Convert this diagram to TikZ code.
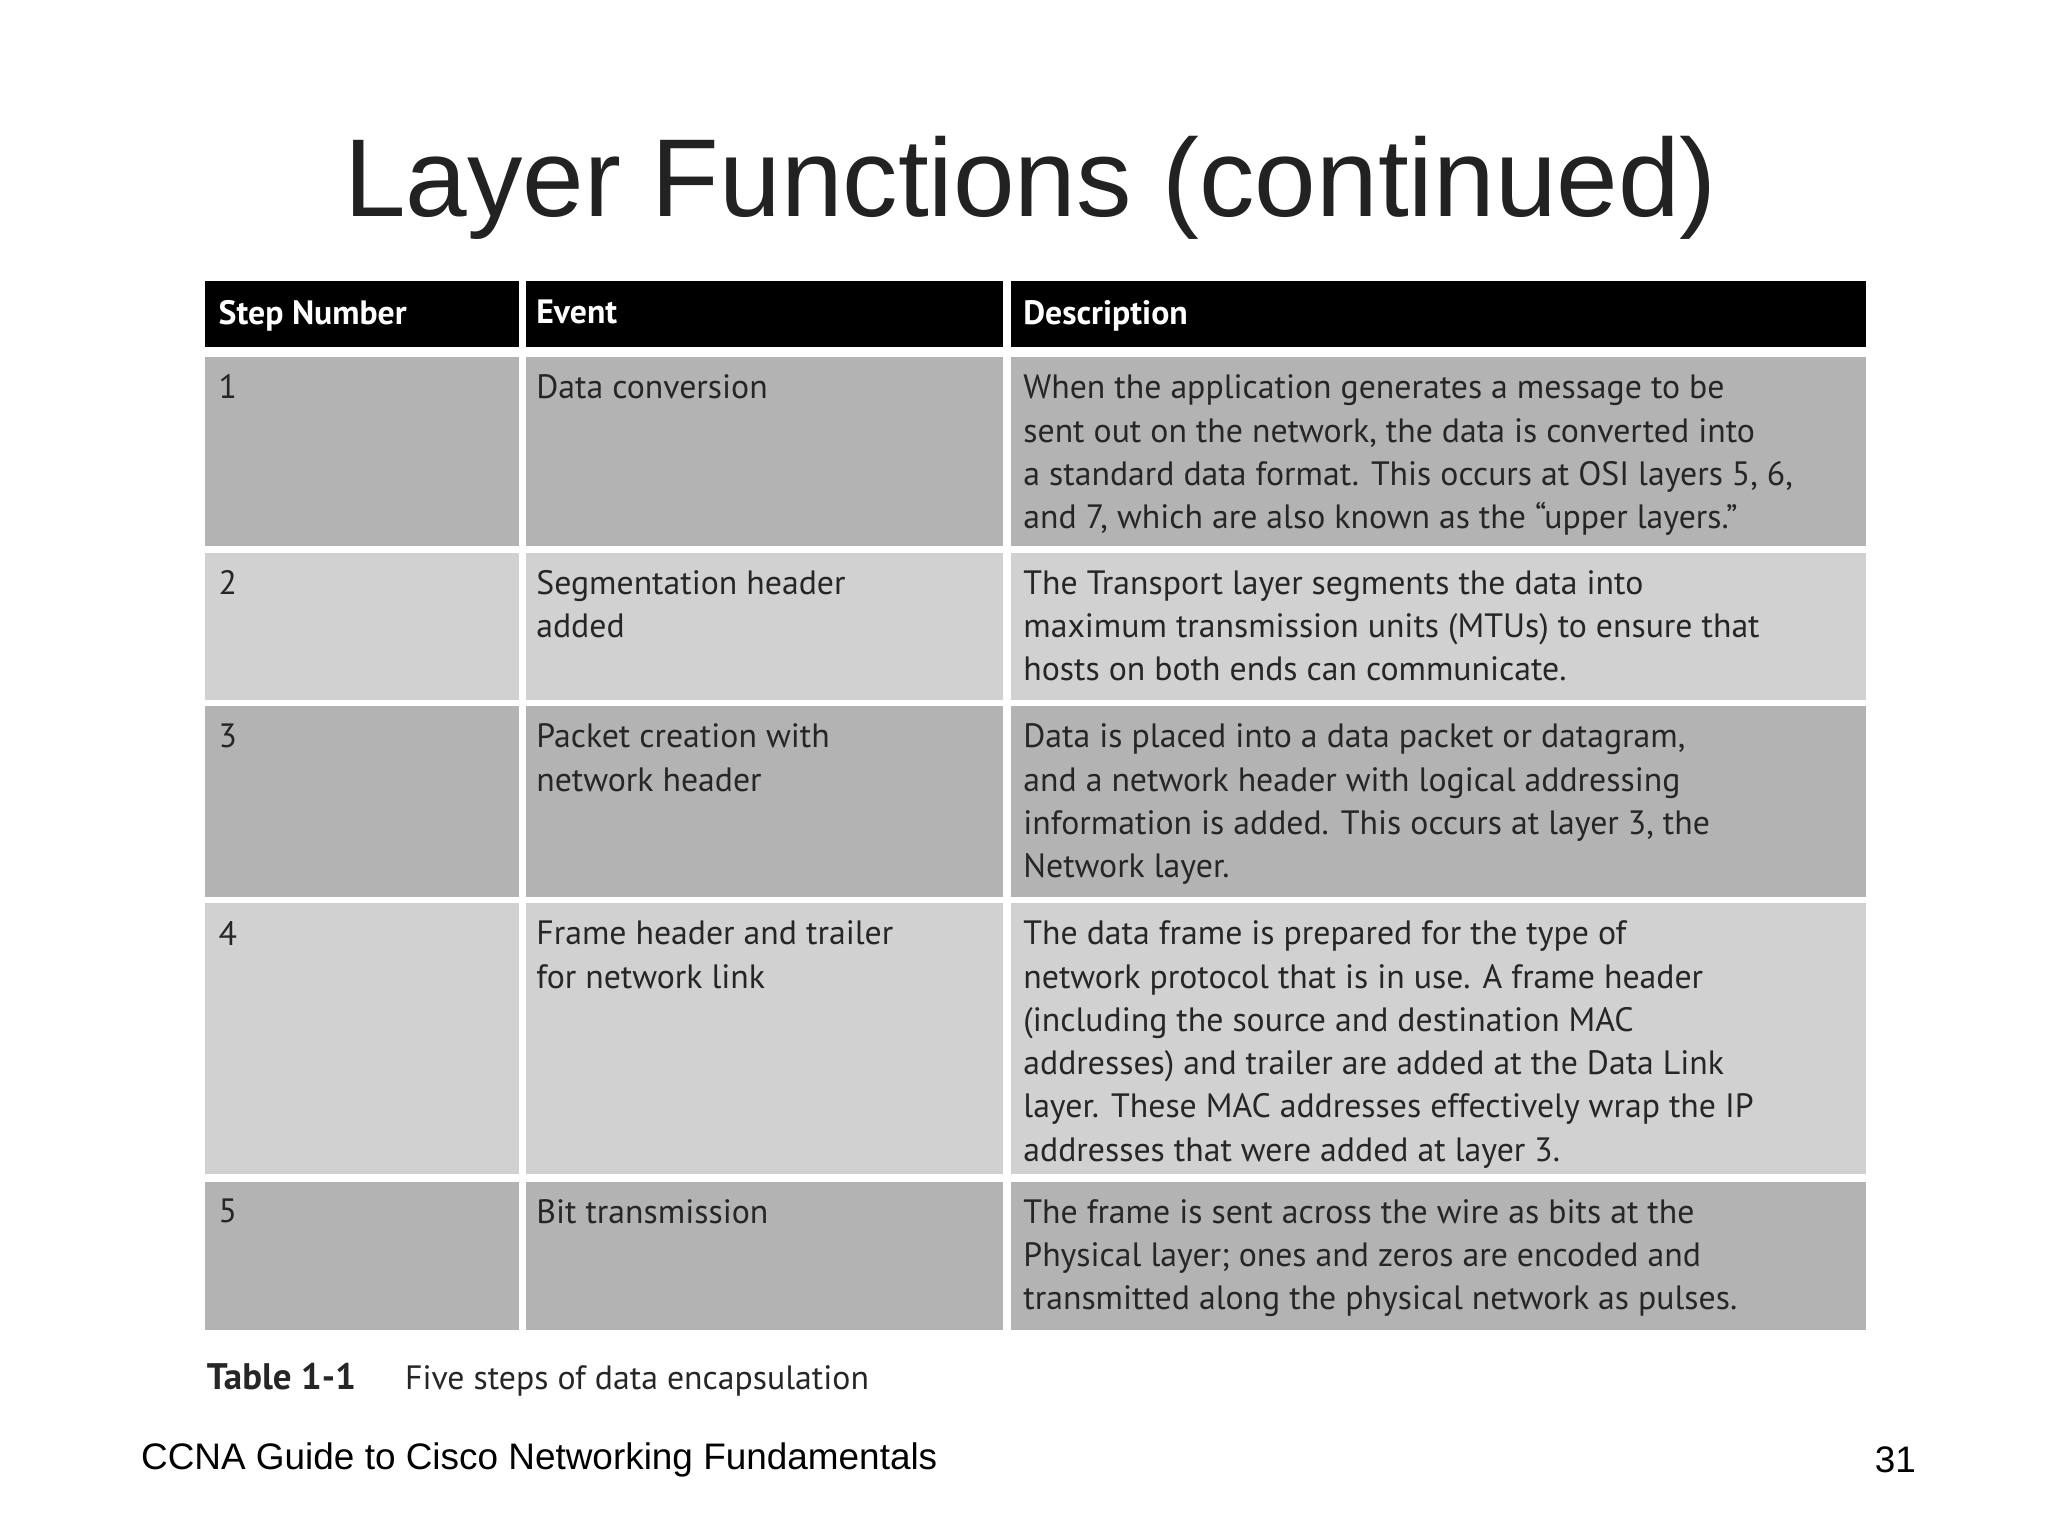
\documentclass[tikz,border=0pt]{standalone}
\usepackage{fontspec}
\setmainfont{Liberation Sans}
\newfontfamily\tabfont{PT Sans}
\usetikzlibrary{positioning}
\definecolor{darkrow}{HTML}{B3B3B3}
\definecolor{lightrow}{HTML}{D1D1D1}
\definecolor{titlegray}{HTML}{222222}
\tikzset{%
  cell/.style={anchor=north west, inner sep=0pt, align=left,
    font=\tabfont\fontsize{9.6}{12.3}\selectfont, text=black!85},
  headcell/.style={cell, font=\tabfont\bfseries\fontsize{9.6}{12.3}\selectfont, text=white}
}
\begin{document}
\begin{tikzpicture}[x=0.013128cm,y=-0.013128cm]
\useasboundingbox (0,0) rectangle (1560,1170);
% header
\fill[black] (156,214) rectangle (395,264);
\fill[black] (401,214) rectangle (764,264);
\fill[black] (770,214) rectangle (1421,264);
% rows
\foreach \ya/\yb/\col in {272/416/darkrow, 421/533/lightrow, 538/683/darkrow, 688/894/lightrow, 900/1013/darkrow}{
  \fill[\col] (156,\ya) rectangle (395,\yb);
  \fill[\col] (401,\ya) rectangle (764,\yb);
  \fill[\col] (770,\ya) rectangle (1421,\yb);
}
\node (title) at (785,143) {\fontsize{31.5}{36}\selectfont\color{titlegray}Layer Functions (continued)};
\node[headcell] (h1) at (166,228) {Step Number};
\node[headcell] (h2) at (408,228) {Event};
\node[headcell] (h3) at (779,228) {Description};
% row 1
\node[cell] (n1) at (166,285) {1};
\node[cell] (e1) at (408,285) {Data conversion};
\node[cell] (d1) at (779,285) {When the application generates a message to be\\sent out on the network, the data is converted into\\a standard data format. This occurs at OSI layers 5, 6,\\and 7, which are also known as the “upper layers.”};
% row 2
\node[cell] (n2) at (166,434) {2};
\node[cell] (e2) at (408,434) {Segmentation header\\added};
\node[cell] (d2) at (779,434) {The Transport layer segments the data into\\maximum transmission units (MTUs) to ensure that\\hosts on both ends can communicate.};
% row 3
\node[cell] (n3) at (166,551) {3};
\node[cell] (e3) at (408,551) {Packet creation with\\network header};
\node[cell] (d3) at (779,551) {Data is placed into a data packet or datagram,\\and a network header with logical addressing\\information is added. This occurs at layer 3, the\\Network layer.};
% row 4
\node[cell] (n4) at (166,701) {4};
\node[cell] (e4) at (408,701) {Frame header and trailer\\for network link};
\node[cell] (d4) at (779,701) {The data frame is prepared for the type of\\network protocol that is in use. A frame header\\(including the source and destination MAC\\addresses) and trailer are added at the Data Link\\layer. These MAC addresses effectively wrap the IP\\addresses that were added at layer 3.};
% row 5
\node[cell] (n5) at (166,913) {5};
\node[cell] (e5) at (408,913) {Bit transmission};
\node[cell] (d5) at (779,913) {The frame is sent across the wire as bits at the\\Physical layer; ones and zeros are encoded and\\transmitted along the physical network as pulses.};
% caption and footer
\node[cell, font=\tabfont\bfseries\fontsize{10.5}{12}\selectfont] (cap) at (157,1038) {Table 1-1};
\node[cell, font=\tabfont\fontsize{9.6}{12}\selectfont] (captext) at (308,1040) {Five steps of data encapsulation};
\node[anchor=west, inner sep=0pt] (foot) at (107,1112) {\fontsize{10.5}{12}\selectfont CCNA Guide to Cisco Networking Fundamentals};
\node[anchor=east, inner sep=0pt] (page) at (1460,1112) {\fontsize{10.5}{12}\selectfont 31};
\end{tikzpicture}
\end{document}
